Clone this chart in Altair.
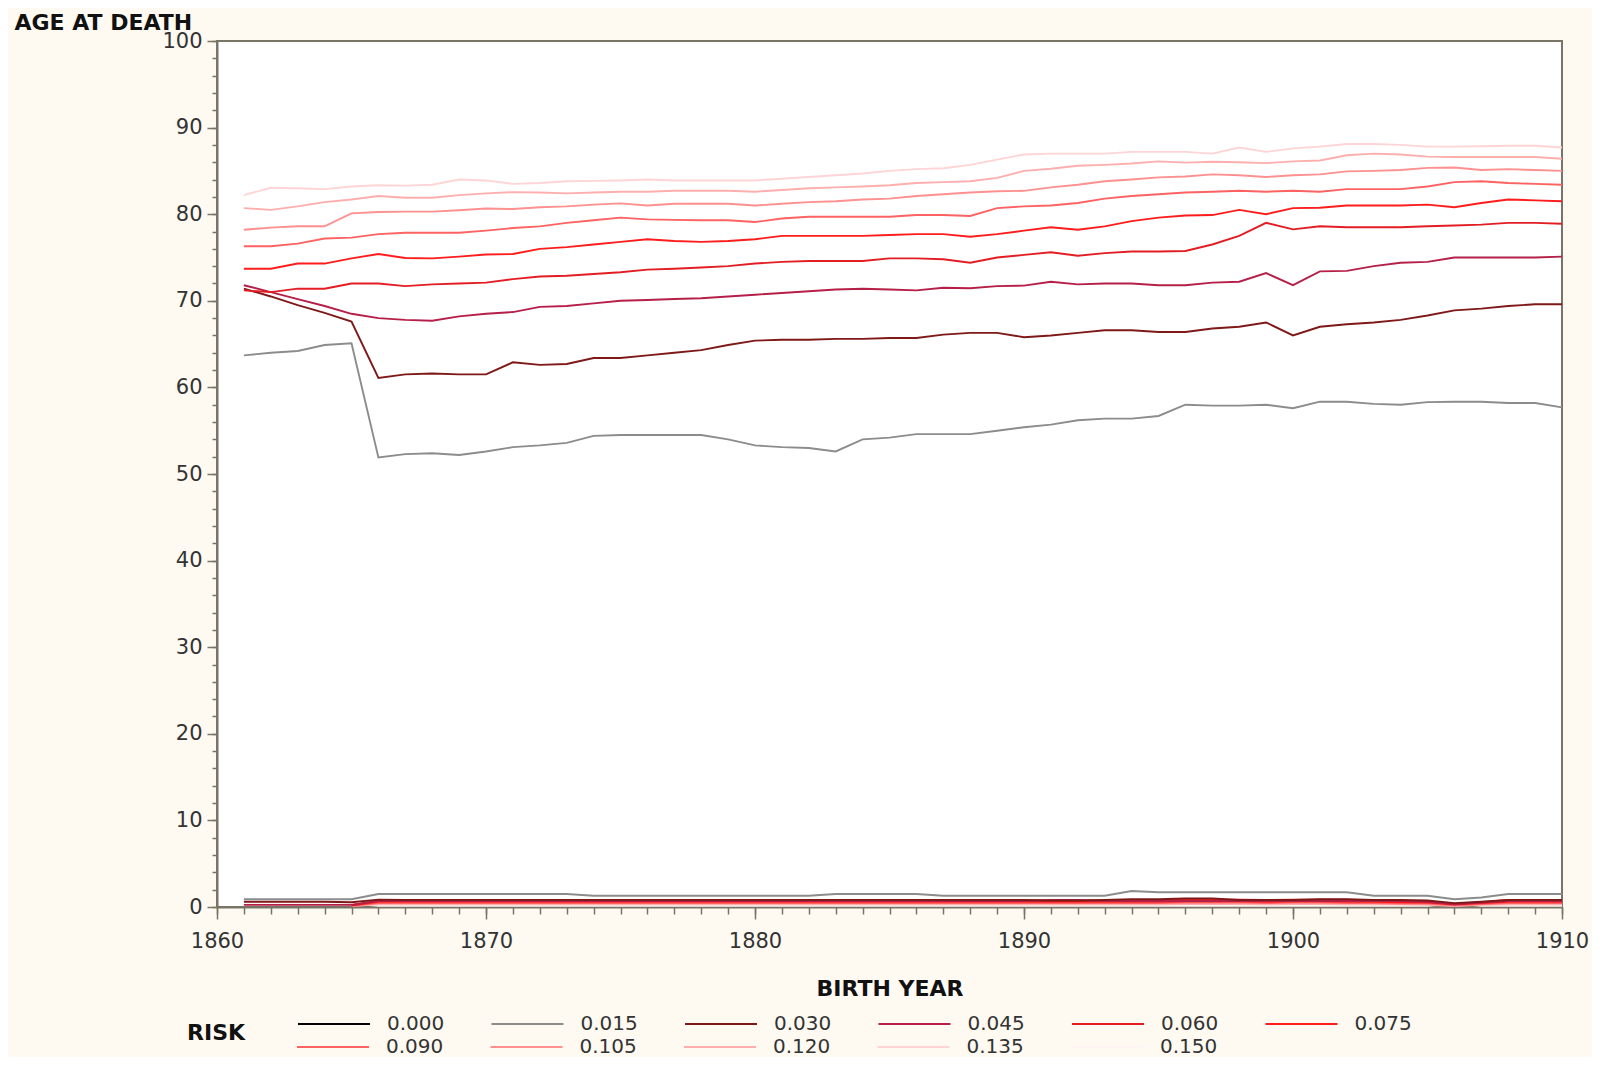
import altair as alt
import pandas as pd

YEARS = list(range(1861, 1911))

RISKS = ["0.000", "0.015", "0.030", "0.045", "0.060", "0.075",
         "0.090", "0.105", "0.120", "0.135", "0.150"]
COLORS = ["#000000", "#8c8c8c", "#7f1818", "#b51f48", "#e21e24", "#ff1c1c",
          "#ff6262", "#ff9090", "#ffaeae", "#ffd4d4", "#fff4f4"]

# upper curves (mean age at death by birth year), 1861..1910
UP_015 = [63.7, 64.0, 64.2, 64.9, 65.1, 51.9, 52.3, 52.4, 52.2, 52.6,
          53.1, 53.3, 53.6, 54.4, 54.5, 54.5, 54.5, 54.5, 54.0, 53.3,
          53.1, 53.0, 52.6, 54.0, 54.2, 54.6, 54.6, 54.6, 55.0, 55.4,
          55.7, 56.2, 56.4, 56.4, 56.7, 58.0, 57.9, 57.9, 58.0, 57.6,
          58.35, 58.35, 58.1, 58.0, 58.3, 58.35, 58.35, 58.2, 58.2, 57.7]
UP_030 = [71.4, 70.5, 69.5, 68.6, 67.6, 61.1, 61.5, 61.6, 61.5, 61.5,
          62.9, 62.6, 62.7, 63.4, 63.4, 63.7, 64.0, 64.3, 64.9, 65.4,
          65.5, 65.5, 65.6, 65.6, 65.7, 65.7, 66.1, 66.3, 66.3, 65.8,
          66.0, 66.3, 66.6, 66.6, 66.4, 66.4, 66.8, 67.0, 67.5, 66.0,
          67.0, 67.3, 67.5, 67.8, 68.3, 68.9, 69.1, 69.4, 69.6, 69.6]
UP_045 = [71.8, 71.0, 70.2, 69.4, 68.5, 68.0, 67.8, 67.7, 68.2, 68.5,
          68.7, 69.3, 69.4, 69.7, 70.0, 70.1, 70.2, 70.3, 70.5, 70.7,
          70.9, 71.1, 71.3, 71.4, 71.3, 71.2, 71.5, 71.45, 71.7, 71.75,
          72.2, 71.9, 72.0, 72.0, 71.8, 71.8, 72.1, 72.2, 73.2, 71.8,
          73.4, 73.45, 74.0, 74.4, 74.5, 75.0, 75.0, 75.0, 75.0, 75.1]
UP_060 = [71.2, 71.0, 71.4, 71.4, 72.0, 72.0, 71.7, 71.9, 72.0, 72.1,
          72.5, 72.8, 72.9, 73.1, 73.3, 73.6, 73.7, 73.85, 74.0, 74.3,
          74.5, 74.6, 74.6, 74.6, 74.9, 74.9, 74.8, 74.4, 75.0, 75.3,
          75.6, 75.2, 75.5, 75.7, 75.7, 75.75, 76.5, 77.5, 79.0, 78.25,
          78.6, 78.5, 78.5, 78.5, 78.6, 78.7, 78.8, 79.0, 79.0, 78.9]
UP_075 = [73.7, 73.7, 74.3, 74.3, 74.9, 75.4, 74.95, 74.9, 75.1, 75.35,
          75.4, 76.0, 76.2, 76.5, 76.8, 77.1, 76.9, 76.8, 76.9, 77.1,
          77.5, 77.5, 77.5, 77.5, 77.6, 77.7, 77.7, 77.4, 77.7, 78.1,
          78.5, 78.2, 78.6, 79.2, 79.6, 79.85, 79.9, 80.5, 80.0, 80.7,
          80.75, 81.0, 81.0, 81.0, 81.1, 80.8, 81.3, 81.7, 81.6, 81.5]
UP_090 = [76.3, 76.3, 76.6, 77.2, 77.3, 77.7, 77.85, 77.85, 77.85, 78.1,
          78.4, 78.6, 79.0, 79.3, 79.6, 79.4, 79.35, 79.3, 79.3, 79.1,
          79.5, 79.7, 79.7, 79.7, 79.7, 79.9, 79.9, 79.8, 80.7, 80.9,
          81.0, 81.3, 81.8, 82.1, 82.3, 82.5, 82.6, 82.7, 82.6, 82.7,
          82.6, 82.9, 82.9, 82.9, 83.2, 83.7, 83.8, 83.6, 83.5, 83.4]
UP_105 = [78.2, 78.45, 78.6, 78.6, 80.1, 80.25, 80.3, 80.3, 80.45, 80.65,
          80.6, 80.8, 80.9, 81.1, 81.25, 81.0, 81.2, 81.2, 81.2, 81.0,
          81.2, 81.4, 81.5, 81.7, 81.8, 82.1, 82.3, 82.5, 82.65, 82.7,
          83.1, 83.4, 83.8, 84.0, 84.25, 84.35, 84.6, 84.5, 84.3, 84.5,
          84.6, 84.95, 85.0, 85.1, 85.35, 85.4, 85.1, 85.2, 85.1, 85.0]
UP_120 = [80.7, 80.5, 80.9, 81.4, 81.7, 82.1, 81.9, 81.9, 82.2, 82.4,
          82.55, 82.5, 82.4, 82.5, 82.6, 82.6, 82.7, 82.7, 82.7, 82.6,
          82.8, 83.0, 83.1, 83.2, 83.35, 83.6, 83.7, 83.8, 84.2, 85.0,
          85.25, 85.6, 85.7, 85.85, 86.1, 85.95, 86.05, 86.0, 85.9, 86.1,
          86.2, 86.8, 87.0, 86.9, 86.65, 86.6, 86.6, 86.6, 86.6, 86.4]
UP_135 = [82.2, 83.05, 83.0, 82.9, 83.2, 83.35, 83.3, 83.4, 84.0, 83.9,
          83.5, 83.6, 83.8, 83.85, 83.9, 84.0, 83.9, 83.9, 83.9, 83.9,
          84.1, 84.3, 84.5, 84.7, 85.0, 85.2, 85.3, 85.7, 86.3, 86.9,
          87.0, 87.0, 87.0, 87.2, 87.2, 87.2, 87.0, 87.7, 87.2, 87.6,
          87.8, 88.1, 88.1, 88.0, 87.8, 87.8, 87.85, 87.9, 87.9, 87.7]

# lower curves near zero, 1861..1910 (None = not drawn)
LOW_015 = [0.9, 0.9, 0.9, 0.9, 0.9, 1.5, 1.5, 1.5, 1.5, 1.5,
           1.5, 1.5, 1.5, 1.3, 1.3, 1.3, 1.3, 1.3, 1.3, 1.3,
           1.3, 1.3, 1.5, 1.5, 1.5, 1.5, 1.3, 1.3, 1.3, 1.3,
           1.3, 1.3, 1.3, 1.85, 1.7, 1.7, 1.7, 1.7, 1.7, 1.7,
           1.7, 1.7, 1.3, 1.3, 1.3, 0.9, 1.1, 1.5, 1.5, 1.5]
LOW_030 = [0.6, 0.6, 0.6, 0.6, 0.55, 0.85, 0.8, 0.8, 0.8, 0.8,
           0.8, 0.8, 0.8, 0.8, 0.8, 0.8, 0.8, 0.8, 0.8, 0.8,
           0.8, 0.8, 0.8, 0.8, 0.8, 0.8, 0.8, 0.8, 0.8, 0.8,
           0.75, 0.75, 0.8, 0.9, 0.9, 1.0, 1.0, 0.8, 0.8, 0.8,
           0.9, 0.9, 0.8, 0.8, 0.75, 0.45, 0.6, 0.8, 0.8, 0.8]
LOW_045 = [0.25, 0.25, 0.25, 0.25, 0.25, 0.7, 0.7, 0.7, 0.7, 0.7,
           0.7, 0.7, 0.7, 0.7, 0.7, 0.7, 0.7, 0.7, 0.7, 0.7,
           0.7, 0.7, 0.7, 0.7, 0.7, 0.7, 0.7, 0.7, 0.7, 0.7,
           0.8, 0.8, 0.7, 0.7, 0.7, 0.7, 0.7, 0.7, 0.7, 0.7,
           0.7, 0.7, 0.7, 0.7, 0.6, 0.3, 0.5, 0.7, 0.7, 0.7]
LOW_060 = [None, None, None, None, 0.2, 0.75, 0.75, 0.75, 0.75, 0.75,
           0.75, 0.75, 0.75, 0.75, 0.75, 0.75, 0.75, 0.75, 0.75, 0.75,
           0.75, 0.75, 0.75, 0.75, 0.75, 0.75, 0.75, 0.75, 0.75, 0.75,
           0.7, 0.7, 0.75, 0.8, 0.8, 0.85, 0.85, 0.85, 0.8, 0.85,
           0.85, 0.85, 0.75, 0.7, 0.6, 0.35, 0.55, 0.8, 0.8, 0.8]
LOW_075 = [None, None, None, None, 0.2, 0.6, 0.6, 0.6, 0.6, 0.6,
           0.6, 0.6, 0.6, 0.6, 0.6, 0.6, 0.6, 0.6, 0.6, 0.6,
           0.6, 0.6, 0.6, 0.6, 0.6, 0.6, 0.6, 0.6, 0.6, 0.6,
           0.6, 0.6, 0.6, 0.6, 0.6, 0.65, 0.65, 0.65, 0.6, 0.65,
           0.65, 0.6, 0.6, 0.55, 0.5, 0.3, 0.45, 0.6, 0.6, 0.6]
LOW_090 = [None, None, None, None, 0.15, 0.45, 0.45, 0.45, 0.45, 0.45,
           0.45, 0.45, 0.45, 0.45, 0.45, 0.45, 0.45, 0.45, 0.45, 0.45,
           0.45, 0.45, 0.45, 0.45, 0.45, 0.45, 0.45, 0.45, 0.45, 0.45,
           0.45, 0.45, 0.45, 0.45, 0.45, 0.5, 0.5, 0.5, 0.45, 0.5,
           0.5, 0.45, 0.45, 0.4, 0.4, 0.2, 0.35, 0.45, 0.45, 0.45]
LOW_120 = [None, None, None, None, 0.1, 0.3, 0.3, 0.3, 0.3, 0.3,
           0.3, 0.3, 0.3, 0.3, 0.3, 0.3, 0.3, 0.3, 0.3, 0.3,
           0.3, 0.3, 0.3, 0.3, 0.3, 0.3, 0.3, 0.3, 0.3, 0.3,
           0.3, 0.3, 0.3, 0.3, 0.3, 0.35, 0.35, 0.35, 0.3, 0.35,
           0.35, 0.3, 0.3, 0.3, 0.25, 0.12, 0.25, 0.3, 0.3, 0.3]
LOW_150 = [0.43, 0.43, 0.43, 0.43, 0.4, 0.15, 0.15, 0.15, 0.15, 0.15,
           0.15, 0.15, 0.15, 0.15, 0.15, 0.15, 0.15, 0.15, 0.15, 0.15,
           0.15, 0.15, 0.15, 0.15, 0.15, 0.15, 0.15, 0.15, 0.15, 0.15,
           0.15, 0.15, 0.15, 0.15, 0.15, 0.15, 0.15, 0.15, 0.15, 0.15,
           0.15, 0.15, 0.15, 0.15, 0.15, 0.4, 0.15, 0.15, 0.15, 0.15]

SERIES = [
    ("0.015", "up", UP_015), ("0.030", "up", UP_030), ("0.045", "up", UP_045),
    ("0.060", "up", UP_060), ("0.075", "up", UP_075), ("0.090", "up", UP_090),
    ("0.105", "up", UP_105), ("0.120", "up", UP_120), ("0.135", "up", UP_135),
    ("0.150", "low", LOW_150), ("0.120", "low", LOW_120), ("0.090", "low", LOW_090),
    ("0.075", "low", LOW_075), ("0.060", "low", LOW_060), ("0.045", "low", LOW_045),
    ("0.030", "low", LOW_030), ("0.015", "low", LOW_015),
]

ROW1 = RISKS[:6]
ROW2 = RISKS[6:]

rows = []
for order, (risk, part, vals) in enumerate(SERIES):
    for yr, v in zip(YEARS, vals):
        if v is not None:
            rows.append({"year": yr, "age": v, "risk": risk,
                         "part": f"{risk}-{part}", "ord": order,
                         "grp": 1 if risk in ROW1 else 2})
df = pd.DataFrame(rows)

X_MAJOR = list(range(1860, 1911, 10))
X_MINOR = list(range(1860, 1911, 1))
Y_MAJOR = list(range(0, 101, 10))
Y_MINOR = list(range(0, 101, 2))

FONT = "DejaVu Sans"
AXC = "#7a7466"
LBL = 21
LEG = 20
TTL = 22

xscale = alt.Scale(domain=[1860, 1910], nice=False, zero=False)
yscale = alt.Scale(domain=[0, 100], nice=False)
cscale = alt.Scale(domain=RISKS, range=COLORS)

LEG_COMMON = dict(orient="none", direction="horizontal", columns=6,
                  symbolType="stroke", symbolSize=5184, symbolStrokeWidth=2,
                  labelFont=FONT, labelFontSize=LEG, labelColor="#333333",
                  labelOffset=16, columnPadding=42.5)

x_major = alt.X("year:Q", scale=xscale,
                axis=alt.Axis(values=X_MAJOR, tickSize=12, tickWidth=1.5, tickColor=AXC,
                              domainColor=AXC, domainWidth=2, format="d",
                              labelFlush=False,
                              labelFont=FONT, labelFontSize=LBL, labelColor="#333333",
                              labelPadding=11, grid=False, orient="bottom",
                              title="BIRTH YEAR", titleFont=FONT, titleFontSize=TTL,
                              titleFontWeight="bold", titleColor="#111111",
                              titleBaseline="alphabetic", titleY=88))
y_major = alt.Y("age:Q", scale=yscale,
                axis=alt.Axis(values=Y_MAJOR, tickSize=10, tickWidth=1.5, tickColor=AXC,
                              domainColor=AXC, domainWidth=2, labelFlush=False,
                              labelFont=FONT, labelFontSize=LBL, labelColor="#333333",
                              labelPadding=5, grid=False, orient="left",
                              title="AGE AT DEATH", titleFont=FONT, titleFontSize=TTL,
                              titleFontWeight="bold", titleColor="#111111",
                              titleAngle=0, titleAlign="left", titleBaseline="alphabetic",
                              titleX=-203, titleY=-12))

lines1 = alt.Chart(df).transform_filter(alt.datum.grp == 1).mark_line(strokeWidth=1.9).encode(
    x=x_major,
    y=y_major,
    color=alt.Color("risk:N", scale=cscale,
                    legend=alt.Legend(values=ROW1, legendX=-30, legendY=946,
                                      title="RISK", titleOrient="left",
                                      titleFont=FONT, titleFontSize=TTL,
                                      titleFontWeight="bold", titleColor="#111111",
                                      titlePadding=51, titleAnchor="middle",
                                      titleBaseline="line-top", titleLineHeight=46,
                                      **LEG_COMMON)),
    detail="part:N",
    order="ord:Q",
)

lines2 = alt.Chart(df).transform_filter(alt.datum.grp == 2).mark_line(strokeWidth=1.9).encode(
    x=alt.X("year:Q", scale=xscale, axis=None),
    y=alt.Y("age:Q", scale=yscale, axis=None),
    color=alt.Color("risk:N", scale=cscale,
                    legend=alt.Legend(values=ROW2, legendX=79, legendY=969,
                                      title=None, **LEG_COMMON)),
    detail="part:N",
    order="ord:Q",
)

minor = alt.Chart(df).mark_point(opacity=0, size=1).encode(
    x=alt.X("year:Q", scale=xscale,
            axis=alt.Axis(values=X_MINOR, tickSize=7, tickWidth=1.5, tickColor=AXC,
                          labels=False, domain=False, grid=False, title=None,
                          orient="bottom")),
    y=alt.Y("age:Q", scale=yscale,
            axis=alt.Axis(values=Y_MINOR, tickSize=5, tickWidth=1.5, tickColor=AXC,
                          labels=False, domain=False, grid=False, title=None,
                          orient="left")),
)

chart = alt.layer(minor, lines2, lines1).resolve_axis(
    x="independent", y="independent"
).resolve_legend(color="independent").properties(
    width=1345, height=866,
    padding={"left": 209, "top": 33, "right": 30, "bottom": 150},
    autosize=alt.AutoSizeParams(type="none"),
    background="#FEFAF1",
).configure_view(stroke=AXC, strokeWidth=2, fill="white")

chart.save("out.html", embed_options={"renderer": "svg", "actions": False})
